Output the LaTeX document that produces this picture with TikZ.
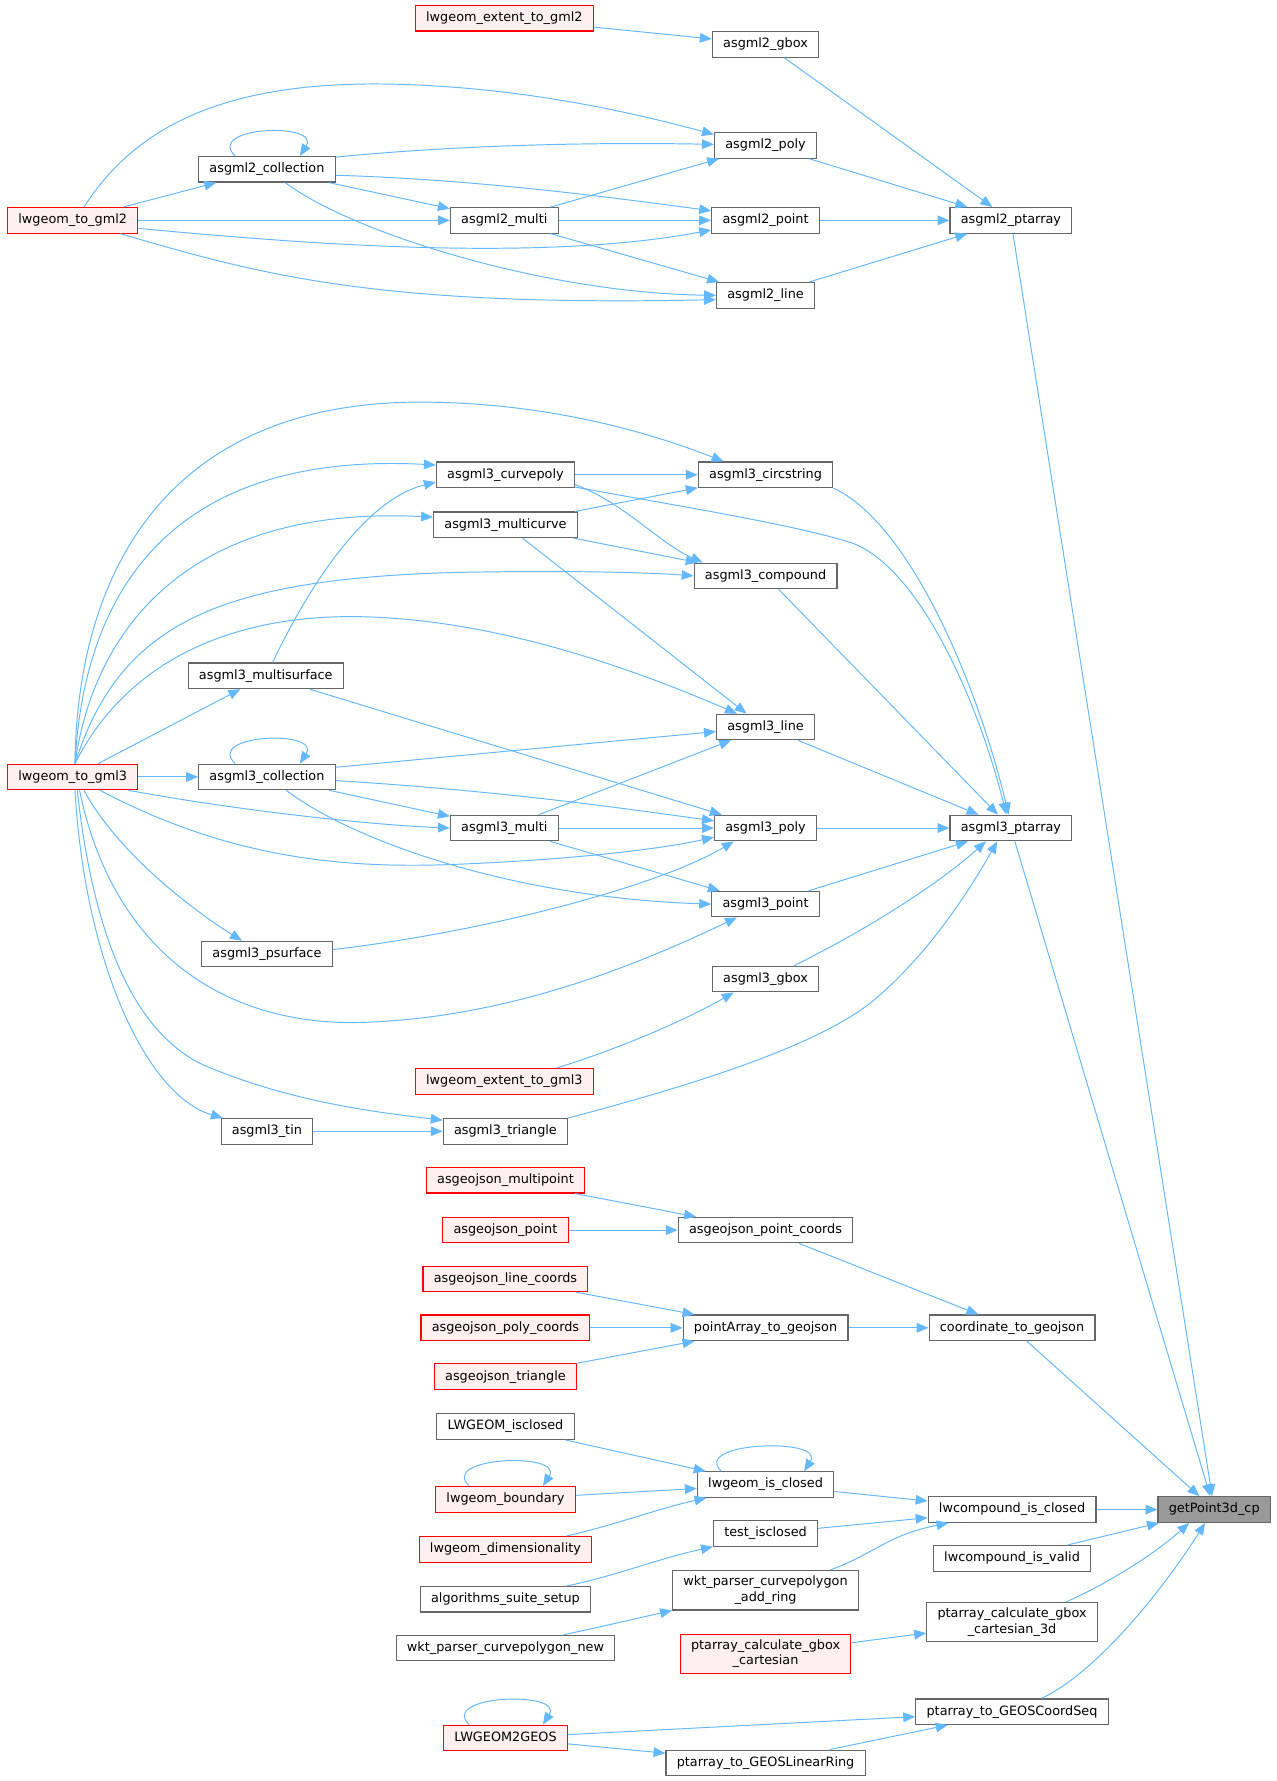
\documentclass[tikz,border=0pt]{standalone}
\usepackage{fontspec}
\setmainfont{DejaVu Sans}
\usetikzlibrary{arrows.meta}

\definecolor{edgeblue}{HTML}{63B8FF}
\definecolor{boxgray}{HTML}{666666}
\definecolor{truncfill}{HTML}{FFF0F0}
\definecolor{mainfill}{HTML}{999999}

\begin{document}
\begin{tikzpicture}[
        x=1pt, y=-1pt,
        fnbox/.style = {
            draw=boxgray,
            fill=white,
            line width=1pt,
            rectangle,
            inner xsep=9.5pt,
            inner ysep=4pt,
            minimum height=22.5pt,
            font=\fontsize{11.3}{13.5}\selectfont
        },
        func/.style = {fnbox, text height=8.6pt, text depth=2.7pt},
        functwo/.style = {fnbox, align=center, inner ysep=5pt},
        trunc/.style = {draw=red, fill=truncfill},
        mainfn/.style = {func, fill=mainfill},
        arrow/.style = {-{Triangle[length=10.5pt, width=8.5pt]}, draw=edgeblue, line width=0.85pt}
    ]

    \fill[white] (0,0) rectangle (1124,1568);
    \useasboundingbox (0,0) rectangle (1124,1568);

    % GML2 group
    \node[func, trunc] (ext2) at (444,16) {lwgeom\_extent\_to\_gml2};
    \node[func] (gbox2) at (674,39) {asgml2\_gbox};
    \node[func] (poly2) at (674,128) {asgml2\_poly};
    \node[func] (coll2) at (235,149) {asgml2\_collection};
    \node[func, trunc] (lwgml2) at (64,194) {lwgeom\_to\_gml2};
    \node[func] (multi2) at (444,194) {asgml2\_multi};
    \node[func] (point2) at (674,194) {asgml2\_point};
    \node[func] (ptarr2) at (890,194) {asgml2\_ptarray};
    \node[func] (line2) at (674,260) {asgml2\_line};

    % GML3 group
    \node[func] (circ3) at (674,418) {asgml3\_circstring};
    \node[func] (cpoly3) at (445,418) {asgml3\_curvepoly};
    \node[func] (mcurve3) at (445,462) {asgml3\_multicurve};
    \node[func] (comp3) at (674,507) {asgml3\_compound};
    \node[func] (msurf3) at (234,595) {asgml3\_multisurface};
    \node[func] (line3) at (674,640) {asgml3\_line};
    \node[func, trunc] (lwgml3) at (64,684) {lwgeom\_to\_gml3};
    \node[func] (coll3) at (235,684) {asgml3\_collection};
    \node[func] (multi3) at (444,729) {asgml3\_multi};
    \node[func] (poly3) at (674,729) {asgml3\_poly};
    \node[func] (ptarr3) at (890,729) {asgml3\_ptarray};
    \node[func] (point3) at (674,796) {asgml3\_point};
    \node[func] (psurf3) at (235,840) {asgml3\_psurface};
    \node[func] (gbox3) at (674,862) {asgml3\_gbox};
    \node[func, trunc] (ext3) at (444,952) {lwgeom\_extent\_to\_gml3};
    \node[func] (tin3) at (235,996) {asgml3\_tin};
    \node[func] (tri3) at (445,996) {asgml3\_triangle};

    % GeoJSON group
    \node[func, trunc] (jmpt) at (445,1039) {asgeojson\_multipoint};
    \node[func, trunc] (jpt) at (445,1083) {asgeojson\_point};
    \node[func] (jptc) at (674,1083) {asgeojson\_point\_coords};
    \node[func, trunc] (jline) at (445,1126) {asgeojson\_line\_coords};
    \node[func, trunc] (jpoly) at (445,1169) {asgeojson\_poly\_coords};
    \node[func] (jpa) at (674,1169) {pointArray\_to\_geojson};
    \node[func] (jcoord) at (891,1169) {coordinate\_to\_geojson};
    \node[func, trunc] (jtri) at (445,1212) {asgeojson\_triangle};

    % closed / gbox / GEOS group
    \node[func] (LWclosed) at (445,1256) {LWGEOM\_isclosed};
    \node[func] (isclosed) at (674,1307) {lwgeom\_is\_closed};
    \node[func, trunc] (boundary) at (445,1320) {lwgeom\_boundary};
    \node[func] (cclosed) at (891,1329) {lwcompound\_is\_closed};
    \node[mainfn] (getpt) at (1069,1329) {getPoint3d\_cp};
    \node[func] (testclosed) at (674,1350) {test\_isclosed};
    \node[func, trunc] (dimens) at (445,1364) {lwgeom\_dimensionality};
    \node[func] (cvalid) at (891,1372) {lwcompound\_is\_valid};
    \node[func] (suite) at (445,1408) {algorithms\_suite\_setup};
    \node[functwo] (addring) at (674,1400) {wkt\_parser\_curvepolygon\\\_add\_ring};
    \node[functwo] (gbox3d) at (891,1428) {ptarray\_calculate\_gbox\\\_cartesian\_3d};
    \node[func] (cpnew) at (445,1451) {wkt\_parser\_curvepolygon\_new};
    \node[functwo, trunc] (gboxcart) at (674,1456) {ptarray\_calculate\_gbox\\\_cartesian};
    \node[func] (coordseq) at (891,1507) {ptarray\_to\_GEOSCoordSeq};
    \node[func, trunc] (lw2geos) at (445,1530) {LWGEOM2GEOS};
    \node[func] (linring) at (674,1552) {ptarray\_to\_GEOSLinearRing};

    % GML2 calls
    \draw[arrow] (ext2) -- (gbox2);
    \draw[arrow] (gbox2) -- (ptarr2);
    \draw[arrow] (poly2) -- (ptarr2);
    \draw[arrow] (point2) -- (ptarr2);
    \draw[arrow] (line2) -- (ptarr2);
    \draw[arrow] (ptarr2) -- (getpt);
    \draw[arrow] ([xshift=10]lwgml2.north) .. controls (120,110) and (200,72) .. (340,74)
        .. controls (460,76) and (560,100) .. (poly2.168);
    \draw[arrow] ([xshift=-28]coll2.north) .. controls +(-27,-26) and +(19,-30) .. ([xshift=29]coll2.north);
    \draw[arrow] (coll2.10) .. controls (400,128) and (520,125) .. (poly2);
    \draw[arrow] (coll2.-5) .. controls (420,158) and (540,174) .. (point2.170);
    \draw[arrow] (coll2) -- (multi2);
    \draw[arrow] ([xshift=16]coll2.south) .. controls (310,205) and (480,258) .. (line2.west);
    \draw[arrow] (lwgml2) -- (coll2);
    \draw[arrow] (lwgml2) -- (multi2);
    \draw[arrow] (lwgml2.-7) .. controls (250,213) and (470,232) .. (point2.190);
    \draw[arrow] ([xshift=42]lwgml2.south) .. controls (230,242) and (330,270) .. (line2.185);
    \draw[arrow] (multi2) -- (poly2);
    \draw[arrow] (multi2) -- (point2);
    \draw[arrow] (multi2) -- (line2);

    % GML3 calls
    \draw[arrow] (circ3.south east) .. controls (800,460) and (860,600) .. ([xshift=-2]ptarr3.north);
    \draw[arrow] (cpoly3.-10) .. controls (600,446) and (700,462) .. (750,478)
        .. controls (810,500) and (862,620) .. ([xshift=-4]ptarr3.north);
    \draw[arrow] (comp3) -- (ptarr3);
    \draw[arrow] (line3) -- (ptarr3);
    \draw[arrow] (poly3) -- (ptarr3);
    \draw[arrow] (point3) -- (ptarr3);
    \draw[arrow] ([xshift=25]gbox3.north) .. controls (770,815) and (830,775) .. ([xshift=-22]ptarr3.south);
    \draw[arrow] (tri3.north east) .. controls (600,958) and (720,922) .. (770,880)
        .. controls (815,842) and (850,790) .. ([xshift=-12]ptarr3.south);
    \draw[arrow] (ptarr3) -- (getpt);
    \draw[arrow] (cpoly3) -- (circ3);
    \draw[arrow] (mcurve3) -- (circ3);
    \draw[arrow] (cpoly3.-8) .. controls (550,443) and (580,478) .. ([xshift=8]comp3.north west);
    \draw[arrow] (mcurve3) -- (comp3);
    \draw[arrow] (mcurve3) -- (line3.145);
    \draw[arrow] ([xshift=6]msurf3.north) .. controls (270,520) and (320,440) .. (cpoly3.186);
    \draw[arrow] (msurf3) -- (poly3);
    \draw[arrow] ([xshift=2]lwgml3.north) .. controls (68,500) and (150,355) .. (368,354)
        .. controls (480,354) and (570,380) .. ([xshift=-37]circ3.north);
    \draw[arrow] ([xshift=2]lwgml3.north) .. controls (75,500) and (170,398) .. (cpoly3.172);
    \draw[arrow] ([xshift=2]lwgml3.north) .. controls (85,540) and (180,445) .. (mcurve3.174);
    \draw[arrow] ([xshift=2]lwgml3.north) .. controls (105,550) and (190,510) .. (400,504)
        .. controls (500,502) and (570,504) .. (comp3.west);
    \draw[arrow] ([xshift=2]lwgml3.north) .. controls (110,585) and (200,540) .. (320,543)
        .. controls (440,546) and (560,590) .. (line3.155);
    \draw[arrow] (lwgml3) -- (msurf3);
    \draw[arrow] (lwgml3) -- (coll3);
    \draw[arrow] ([xshift=-28]coll3.north) .. controls +(-27,-26) and +(19,-30) .. ([xshift=29]coll3.north);
    \draw[arrow] (coll3.8) -- (line3);
    \draw[arrow] (coll3.-3) .. controls (450,697) and (550,712) .. (poly3.172);
    \draw[arrow] (coll3) -- (multi3);
    \draw[arrow] ([xshift=17]coll3.south) .. controls (310,740) and (450,790) .. (point3.west);
    \draw[arrow] ([xshift=49]lwgml3.south) .. controls (200,712) and (320,726) .. (multi3.west);
    \draw[arrow] ([xshift=24]lwgml3.south) .. controls (200,755) and (300,765) .. (400,761)
        .. controls (500,757) and (580,748) .. (poly3.190);
    \draw[arrow] ([xshift=6]lwgml3.south) .. controls (100,840) and (200,905) .. (323,900)
        .. controls (450,895) and (560,850) .. (point3.205);
    \draw[arrow] ([xshift=10]lwgml3.south) .. controls (100,745) and (160,795) .. ([xshift=-22]psurf3.north);
    \draw[arrow] ([xshift=4]lwgml3.south) .. controls (85,850) and (130,915) .. (180,938)
        .. controls (260,972) and (340,980) .. (tri3.170);
    \draw[arrow] ([xshift=2]lwgml3.south) .. controls (75,850) and (130,965) .. ([xshift=2]tin3.north west);
    \draw[arrow] (tin3) -- (tri3);
    \draw[arrow] (multi3) -- (line3);
    \draw[arrow] (multi3) -- (poly3);
    \draw[arrow] (multi3) -- (point3);
    \draw[arrow] ([yshift=4]psurf3.east) .. controls (430,820) and (580,780) .. ([xshift=-28]poly3.south);
    \draw[arrow] ([xshift=46]ext3.north) .. controls (540,925) and (600,900) .. ([xshift=-28]gbox3.south);

    % GeoJSON calls
    \draw[arrow] (jmpt) -- (jptc);
    \draw[arrow] (jpt) -- (jptc);
    \draw[arrow] (jptc) -- (jcoord);
    \draw[arrow] (jline) -- (jpa);
    \draw[arrow] (jpoly) -- (jpa);
    \draw[arrow] (jtri) -- (jpa);
    \draw[arrow] (jpa) -- (jcoord);
    \draw[arrow] (jcoord) -- (getpt);

    % closed / gbox / GEOS calls
    \draw[arrow] (LWclosed) -- (isclosed);
    \draw[arrow] (boundary) -- (isclosed);
    \draw[arrow] ([xshift=54]dimens.north) .. controls (540,1343) and (580,1328) .. ([xshift=-52]isclosed.south);
    \draw[arrow] ([xshift=-32]boundary.north) .. controls +(-27,-26) and +(19,-30) .. ([xshift=33]boundary.north);
    \draw[arrow] ([xshift=-39]isclosed.north) .. controls +(-27,-26) and +(19,-30) .. ([xshift=34]isclosed.north);
    \draw[arrow] (isclosed) -- (cclosed);
    \draw[arrow] (testclosed) -- (cclosed);
    \draw[arrow] ([xshift=57]addring.north) .. controls (770,1368) and (780,1352) .. ([xshift=-56]cclosed.south);
    \draw[arrow] (cclosed) -- (getpt);
    \draw[arrow] (cvalid) -- (getpt);
    \draw[arrow] ([xshift=48]gbox3d.north) .. controls (980,1392) and (1020,1365) .. ([xshift=-22]getpt.south);
    \draw[arrow] ([xshift=26]coordseq.north) .. controls (970,1470) and (1030,1390) .. ([xshift=-8]getpt.south);
    \draw[arrow] (gboxcart) -- (gbox3d);
    \draw[arrow] ([xshift=54]suite.north) .. controls (540,1388) and (580,1372) .. (testclosed.south west);
    \draw[arrow] ([xshift=51]cpnew.north) .. controls (530,1432) and (560,1425) .. (addring.south west);
    \draw[arrow] (lw2geos) -- (coordseq);
    \draw[arrow] (lw2geos) -- (linring);
    \draw[arrow] (linring) -- (coordseq);
    \draw[arrow] ([xshift=-32]lw2geos.north) .. controls +(-27,-26) and +(19,-30) .. ([xshift=33]lw2geos.north);

\end{tikzpicture}
\end{document}
